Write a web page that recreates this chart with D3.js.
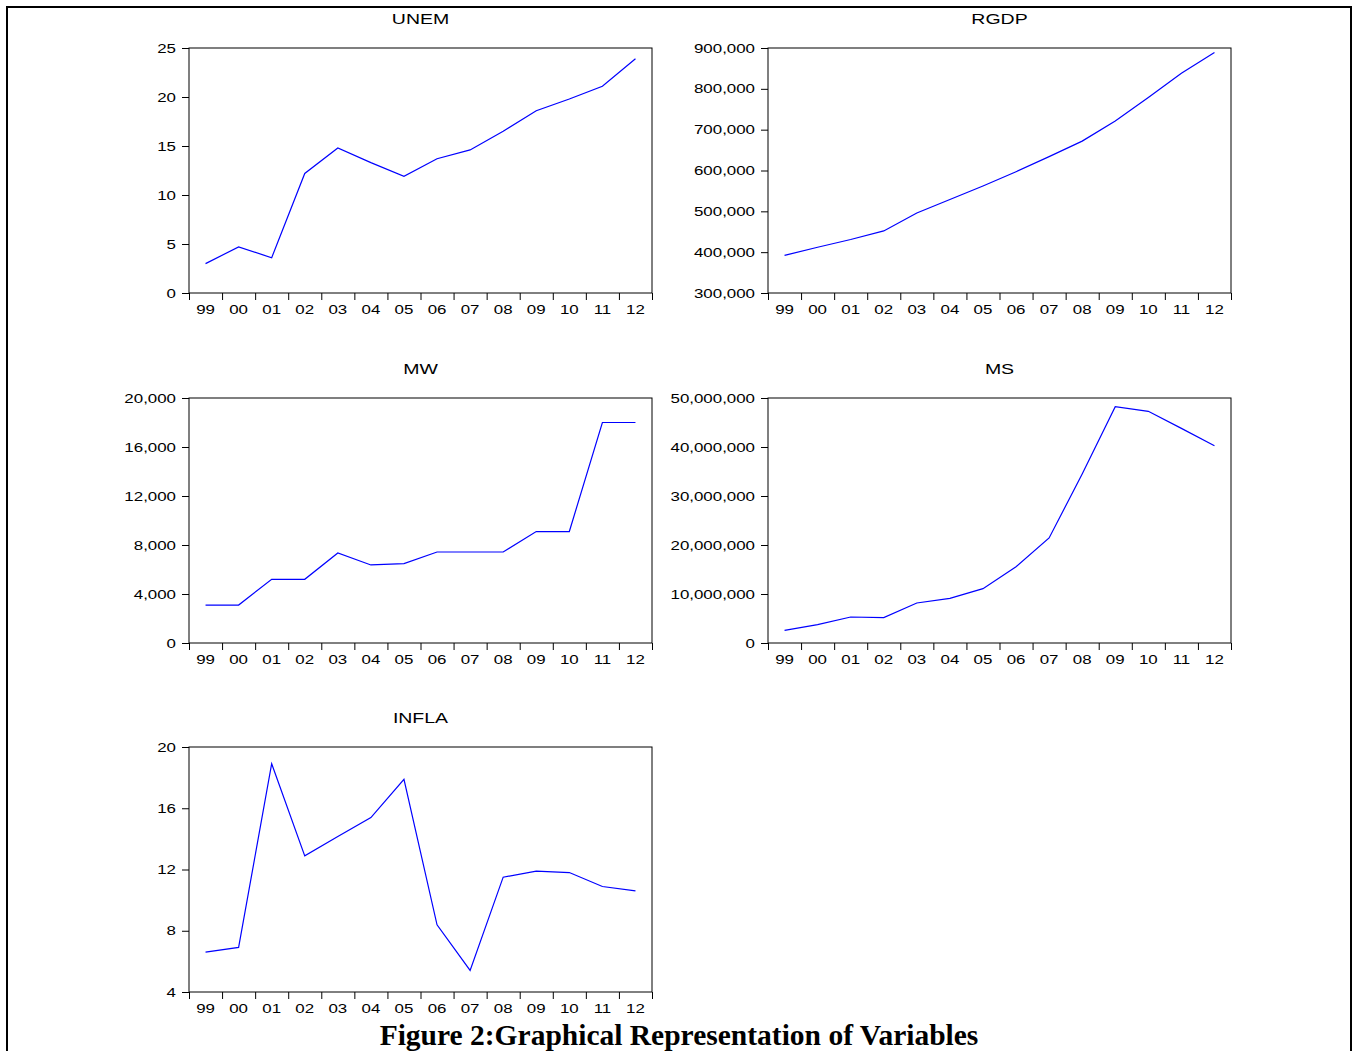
<!DOCTYPE html>
<html>
<head>
<meta charset="utf-8">
<script src="https://cdn.jsdelivr.net/npm/d3@7"></script>
<style>
  body { margin: 0; background: #fff; }
  svg { display: block; }
  .tick text { font-family: "Liberation Sans", Arial, sans-serif; font-size: 13px; fill: #000; }
</style>
</head>
<body>
<div id="wrapper"></div>
<script>
// years shown on each x axis
const years = ["99", "00", "01", "02", "03", "04", "05", "06", "07", "08", "09", "10", "11", "12"]

// series values
const unem = [3.0, 4.7, 3.6, 12.2, 14.8, 13.3, 11.9, 13.7, 14.6, 16.5, 18.6, 19.8, 21.1, 23.9]
const rgdp = [392000, 412000, 431000, 452000, 496000, 529000, 562000, 597000, 634000, 672000, 721000, 779000, 838000, 889000]
const mw = [3100, 3100, 5200, 5200, 7350, 6370, 6480, 7430, 7430, 7430, 9100, 9100, 18000, 18000]
const ms = [2590000, 3740000, 5310000, 5170000, 8160000, 9120000, 11090000, 15580000, 21430000, 34490000, 48230000, 47280000, 43800000, 40270000]
const infla = [6.61, 6.91, 18.91, 12.89, 14.15, 15.39, 17.89, 8.39, 5.41, 11.5, 11.89, 11.8, 10.89, 10.61]

// y tick labels for each panel
const unemTicks = [0, 5, 10, 15, 20, 25]
const rgdpTicks = [300000, 400000, 500000, 600000, 700000, 800000, 900000]
const mwTicks = [0, 4000, 8000, 12000, 16000, 20000]
const msTicks = [0, 10000000, 20000000, 30000000, 40000000, 50000000]
const inflaTicks = [4, 8, 12, 16, 20]

const panels = [
    { title: "UNEM", values: unem, ticks: unemTicks, x: 189, y: 48 },
    { title: "RGDP", values: rgdp, ticks: rgdpTicks, x: 768, y: 48 },
    { title: "MW", values: mw, ticks: mwTicks, x: 189, y: 398 },
    { title: "MS", values: ms, ticks: msTicks, x: 768, y: 398 },
    { title: "INFLA", values: infla, ticks: inflaTicks, x: 189, y: 747 },
]

const width = 1353
const height = 1051
const boxW = 463
const boxH = 245
// the original sans text looks stretched sideways
const stretch = 1.3

const wrapper = d3.select("#wrapper")
    .append("svg")
    .attr("width", width)
    .attr("height", height)

// outer frame (bottom edge is cut off)
wrapper.append("path")
    .attr("d", `M7,${height + 5} V7 H1351 V${height + 5}`)
    .attr("fill", "none")
    .attr("stroke", "#000")
    .attr("stroke-width", 2)

const fmt = d3.format(",")

panels.forEach(p => {
    const bounds = wrapper.append("g")
        .attr("transform", `translate(${p.x},${p.y})`)

    const xScale = d3.scaleBand()
        .domain(years)
        .range([0, boxW])

    const xEdges = d3.scaleLinear()
        .domain([0, years.length])
        .range([0, boxW])

    const yScale = d3.scaleLinear()
        .domain(d3.extent(p.ticks))
        .range([boxH, 0])

    // title
    bounds.append("text")
        .attr("transform", `translate(${boxW / 2},-24) scale(${stretch},1)`)
        .attr("text-anchor", "middle")
        .style("font-family", "'Liberation Sans', Arial, sans-serif")
        .style("font-size", "15px")
        .text(p.title)

    // y axis
    const yAxis = bounds.append("g")
        .call(d3.axisLeft(yScale)
            .tickValues(p.ticks)
            .tickSize(7)
            .tickFormat(fmt))
    yAxis.select(".domain").remove()
    yAxis.selectAll(".tick text")
        .attr("x", -13 / stretch)
        .attr("transform", `scale(${stretch},1)`)

    // x axis tick marks at year boundaries
    const xTicks = bounds.append("g")
        .attr("transform", `translate(0,${boxH})`)
        .call(d3.axisBottom(xEdges)
            .tickValues(d3.range(years.length + 1))
            .tickSize(7)
            .tickFormat(""))
    xTicks.select(".domain").remove()

    // x axis labels centred in each year
    const xLabels = bounds.append("g")
        .attr("transform", `translate(0,${boxH})`)
        .call(d3.axisBottom(xScale)
            .tickSize(0)
            .tickPadding(12))
    xLabels.select(".domain").remove()
    xLabels.selectAll(".tick text")
        .attr("transform", `scale(${stretch},1)`)

    // plot box
    bounds.append("rect")
        .attr("x", 0)
        .attr("y", 0)
        .attr("width", boxW)
        .attr("height", boxH)
        .attr("fill", "none")
        .attr("stroke", "#000")
        .attr("stroke-width", 1)

    const lineGenerator = d3.line()
        .x((d, i) => xScale(years[i]) + xScale.bandwidth() / 2)
        .y(d => yScale(d))

    bounds.append("path")
        .datum(p.values)
        .attr("d", lineGenerator)
        .attr("fill", "none")
        .attr("stroke", "#0000ff")
        .attr("stroke-width", 1.2)
})

// caption
wrapper.append("text")
    .attr("x", 679)
    .attr("y", 1045)
    .attr("text-anchor", "middle")
    .style("font-family", "'Liberation Serif', 'Times New Roman', serif")
    .style("font-weight", "bold")
    .style("font-size", "29.5px")
    .text("Figure 2:Graphical Representation of Variables")
</script>
</body>
</html>
